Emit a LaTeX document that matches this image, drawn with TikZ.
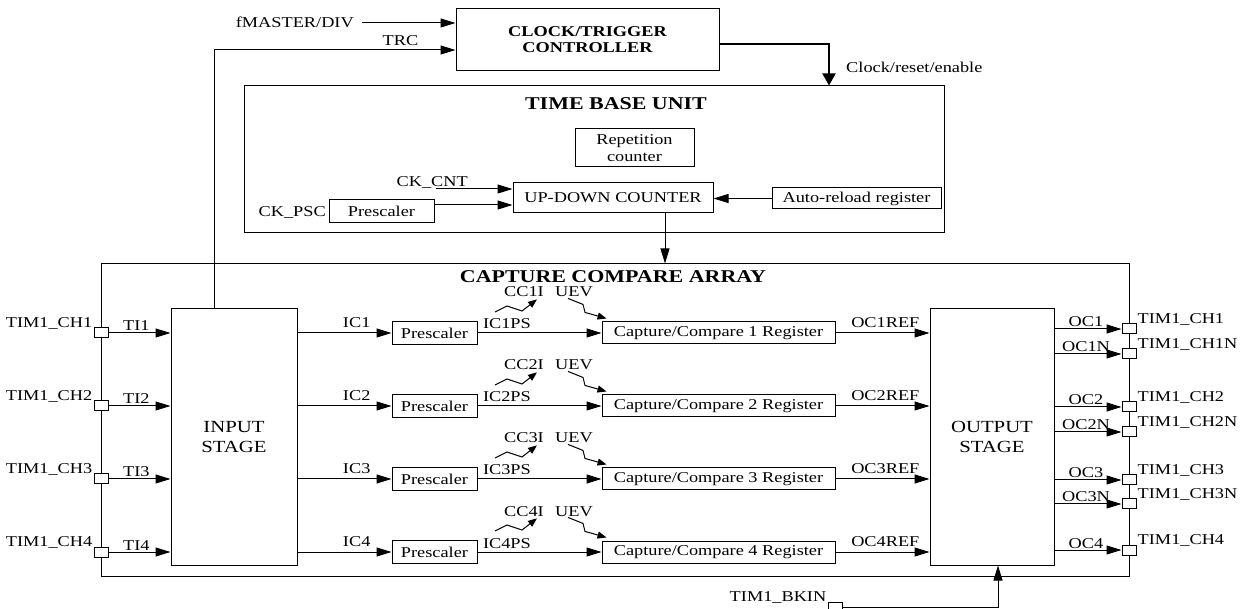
\documentclass[tikz,border=0pt]{standalone}
\usepackage{fontspec}
\setmainfont{Liberation Serif}[FakeStretch=1.22]
\usetikzlibrary{arrows.meta,calc}
\begin{document}
\begin{tikzpicture}[x=1pt,y=-1pt,
  every node/.style={inner sep=0pt},
  txt/.style={font=\fontsize{15}{17}\selectfont},
  box/.style={draw, line width=1pt, align=center, font=\fontsize{15}{17}\selectfont},
  frame/.style={draw, line width=1pt},
  ttl/.style={font=\fontsize{18}{20}\selectfont\bfseries},
  pin/.style={draw, fill=white, line width=1pt, minimum width=14pt, minimum height=10pt},
  arr/.style={line width=1pt, -{Triangle[length=15pt,width=9pt]}},
  warr/.style={line width=1pt, -{Triangle[length=9pt,width=7pt]}},
  tarr/.style={line width=2pt, -{Triangle[length=12pt,width=13pt]}},
]
\useasboundingbox (0,0) rectangle (1243,609);

% clock / trigger controller
\node[box, minimum width=263pt, minimum height=62pt, font=\fontsize{15}{16}\selectfont\bfseries] (ctrl) at (587.5,40) {CLOCK/TRIGGER\\CONTROLLER};
\node[txt, anchor=base east] (fm) at (354,28) {fMASTER/DIV};
\coordinate (fmin) at (362,23);
\draw[arr] (fmin) -- (fmin -| ctrl.west);

% time base unit
\node[frame, minimum width=700pt, minimum height=147pt] (tbu) at (594,159.5) {};
\node[ttl, anchor=base] (tbut) at (616,110) {TIME BASE UNIT};
\node[box, minimum width=119pt, minimum height=38pt] (rep) at (634.5,148) {Repetition\\counter};
\node[box, minimum width=200pt, minimum height=30pt] (udc) at (613,198) {UP-DOWN COUNTER};
\node[box, minimum width=169pt, minimum height=21pt] (arl) at (856.5,198.5) {Auto-reload register};
\node[box, minimum width=105pt, minimum height=23pt] (tpsc) at (381.5,211.5) {Prescaler};
\node[txt, anchor=base east] (ckpsc) at (326,217) {CK\_PSC};
\node[txt, anchor=base east] (ckcnt) at (468,187) {CK\_CNT};
\coordinate (ckin) at (436,189);
\draw[arr] (ckin) -- (ckin -| udc.west);
\coordinate (pscout) at ([yshift=6.5pt]tpsc.east);
\draw[arr] (pscout) -- (pscout -| udc.west);
\draw[arr] (arl.west) -- (arl.west -| udc.east);

% controller output
\coordinate (cout) at ([yshift=-4pt]ctrl.east);
\draw[tarr] (cout) -| ([xshift=235pt]tbu.north);
\node[txt, anchor=base west] (cre) at (846,73) {Clock/reset/enable};

% capture compare array
\node[frame, minimum width=1028pt, minimum height=312pt] (cca) at (615,420) {};
\node[ttl, anchor=base] (ccat) at (613,283) {CAPTURE COMPARE ARRAY};
\coordinate (udcdown) at ([xshift=52pt]udc.south);
\draw[arr] (udcdown) -- (udcdown |- cca.north);

\node[box, minimum width=126pt, minimum height=256pt, font=\fontsize{17}{20}\selectfont] (ins) at (234,437) {INPUT\\STAGE};
\node[box, minimum width=124pt, minimum height=256pt, font=\fontsize{17}{20}\selectfont] (outs) at (992,437) {OUTPUT\\STAGE};

% TRC
\coordinate (trcsrc) at ([xshift=-20pt]ins.north);
\coordinate (trcin) at ([yshift=-10pt]ctrl.west);
\draw[arr] (trcsrc) |- (trcin) node[txt, pos=0.886, anchor=base, yshift=4pt] {TRC};

% channels
\foreach \i/\y in {1/333,2/406,3/479,4/552} {
  \node[pin] (ip\i) at (101,\y) {};
  \node[txt, anchor=base east] (ipl\i) at ([xshift=-1pt]ip\i.north west) {TIM1\_CH\i};
  \draw[arr] (ip\i.east) -- (ip\i.east -| ins.west) node[txt, pos=0.45, anchor=base, yshift=2pt] {TI\i};
  \node[box, minimum width=85pt, minimum height=23pt] (psc\i) at (434.5,\y) {Prescaler};
  \draw[arr] (ins.east |- ip\i) -- (psc\i.west) node[txt, pos=0.63, anchor=base, yshift=5pt] {IC\i};
  \node[box, minimum width=233pt, minimum height=22pt] (ccr\i) at (718.5,\y) {Capture/Compare \i\ Register};
  \draw[arr] (psc\i.east) -- (ccr\i.west) node[txt, pos=0, anchor=base west, xshift=5pt, yshift=4pt] {IC\i PS};
  \draw[arr] (ccr\i.east) -- (ccr\i.east -| outs.west) node[txt, pos=0.53, anchor=base, yshift=5pt] {OC\i REF};
  \node[txt, anchor=base east] (cci\i) at (544,\y-36) {CC\i I};
  \node[txt, anchor=base west] (uev\i) at (555,\y-36) {UEV};
  \coordinate (ws\i) at (495,\y-21);
  \draw[warr] (ws\i) -- ++(12,-6) -- ++(15,5) -- ([xshift=-7pt,yshift=-2pt]cci\i.south east);
  \draw[warr] ([xshift=13pt,yshift=-1pt]uev\i.south west) -- ++(15,6) -- ++(2,8) -- ([xshift=5pt,yshift=3pt]ccr\i.north west);
}

% outputs
\foreach \n/\y in {1/329,1N/354,2/407,2N/432,3/480,3N/504,4/550} {
  \node[pin] (op\n) at (1129,\y) {};
  \draw[arr] (outs.east |- op\n) -- (op\n.west) node[txt, pos=0.47, anchor=base, yshift=2pt] {OC\n};
  \node[txt, anchor=base west] (opl\n) at ([xshift=1pt]op\n.north east) {TIM1\_CH\n};
}

% break input
\node[pin] (bkin) at (835,607) {};
\node[txt, anchor=base east] (bkinl) at ([xshift=-1pt]bkin.north west) {TIM1\_BKIN};
\draw[arr] (bkin.east) -| ([xshift=6pt]outs.south);
\end{tikzpicture}
\end{document}
